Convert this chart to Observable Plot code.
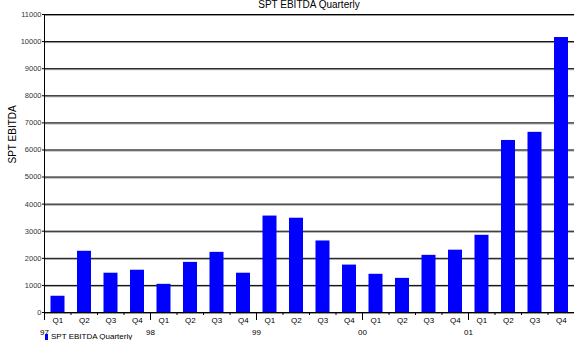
<!DOCTYPE html>
<html>
<head>
<meta charset="utf-8">
<script src="https://cdn.jsdelivr.net/npm/d3@7"></script>
<script src="https://cdn.jsdelivr.net/npm/@observablehq/plot@0.6"></script>
<style>
  html, body { margin: 0; padding: 0; background: #fff; overflow: hidden; }
  #wrap { position: relative; width: 574px; height: 340px; font-family: "Liberation Sans", Arial, sans-serif; }
  #title { position: absolute; top: 0; left: 44px; width: 530px; text-align: center; font-size: 10px; line-height: 10px; color: #000; }
  #legend { position: absolute; top: 332px; left: 45px; font-size: 8px; color: #000; display: flex; align-items: center; gap: 3px; }
  #legend .sw { width: 3px; height: 6px; background: #0000ff; }
</style>
</head>
<body>
<div id="wrap">
  <div id="chart"></div>
  <div id="title">SPT EBITDA Quarterly</div>
  <div id="legend"><span class="sw"></span><span>SPT EBITDA Quarterly</span></div>
</div>
<script>
// Fiscal years and quarters on the category axis
const years = ["97", "98", "99", "00", "01"];
const quarters = ["Q1", "Q2", "Q3", "Q4"];
// Quarterly EBITDA, Q1 97 through Q4 01
const ebitda = [600, 2260, 1450, 1560, 1040, 1850, 2220, 1450, 3560, 3480, 2640, 1750, 1410, 1260, 2110, 2300, 2850, 6350, 6650, 10150];
// Value axis ticks
const yTicks = d3.range(0, 11001, 1000);

const rows = ebitda.map((v, i) => ({
  i,
  year: years[Math.floor(i / 4)],
  quarter: quarters[i % 4],
  value: v
}));

const quarterPos = rows.map(d => d.i + 0.5);
const quarterBounds = d3.range(1, rows.length + 1).filter(k => k % 4 !== 0);
const yearBounds = years.map((y, k) => k * 4);

const chart = Plot.plot({
  width: 574,
  height: 340,
  marginLeft: 44,
  marginRight: 0,
  marginTop: 14,
  marginBottom: 28,
  style: { fontFamily: "Liberation Sans, Arial, sans-serif", background: "#fff", overflow: "visible" },
  x: { type: "linear", domain: [0, rows.length], label: null },
  y: { domain: [0, 11000], label: null },
  marks: [
    // horizontal gridlines with a grey shadow line underneath
    Plot.ruleY(yTicks, { stroke: "#999", strokeWidth: 1, dy: 1 }),
    Plot.ruleY(yTicks, { stroke: "#000", strokeWidth: 1 }),
    Plot.rectY(rows, {
      x1: "i",
      x2: d => d.i + 1,
      y: "value",
      fill: "#0000ff",
      insetLeft: 6.5,
      insetRight: 6
    }),
    Plot.axisY({
      ticks: yTicks,
      tickSize: 2,
      tickPadding: 1,
      fontSize: 7.5,
      fill: "#333",
      tickFormat: d => String(d),
      label: null
    }),
    // value axis title
    Plot.text(["SPT EBITDA"], {
      frameAnchor: "left",
      rotate: -90,
      dx: -32,
      fontSize: 10,
      fill: "#000"
    }),
    Plot.ruleX([0], { stroke: "#000" }),
    // short ticks between quarters
    Plot.axisX({ ticks: quarterBounds, tickSize: 3, tickFormat: () => "", stroke: "#000", label: null }),
    // quarter labels centred in each slot
    Plot.axisX({
      ticks: quarterPos,
      tickSize: 0,
      tickPadding: 5,
      fontSize: 8,
      fill: "#000",
      tickFormat: d => rows[Math.floor(d)].quarter,
      label: null
    }),
    // year boundaries with longer ticks and year labels
    Plot.axisX({
      ticks: yearBounds,
      tickSize: 8,
      tickPadding: 9,
      fontSize: 8,
      fill: "#000",
      stroke: "#000",
      tickFormat: d => years[d / 4],
      label: null
    })
  ]
});

document.getElementById("chart").appendChild(chart);
</script>
</body>
</html>
